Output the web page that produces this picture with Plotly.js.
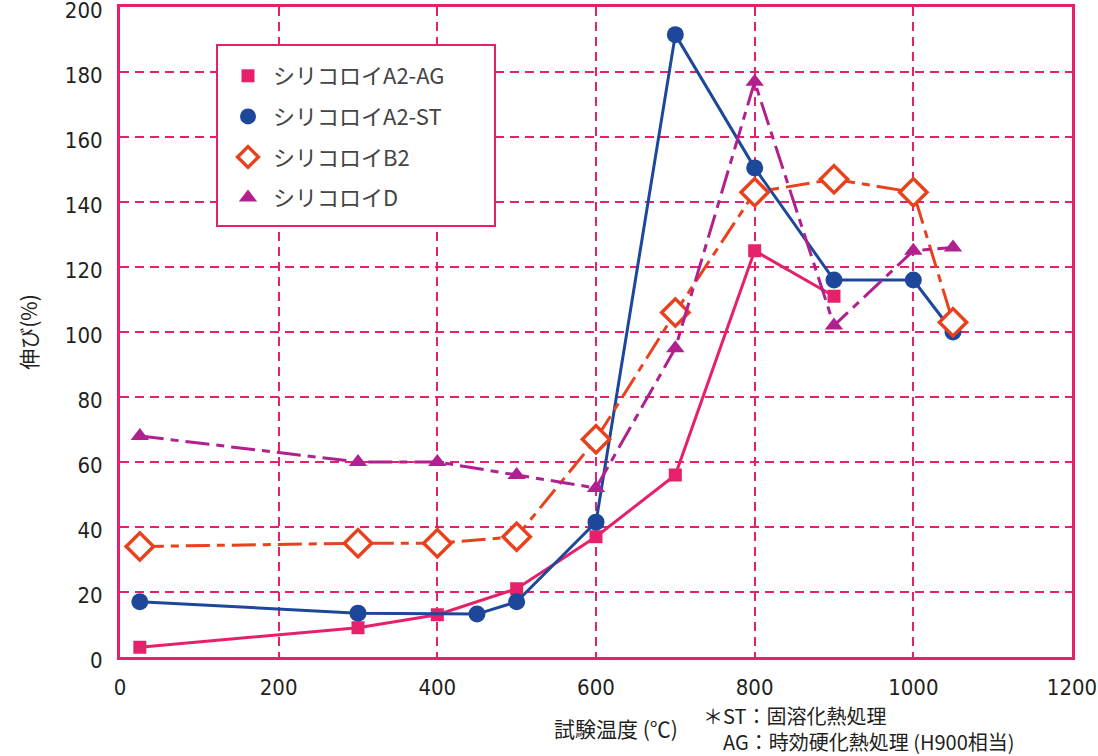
<!DOCTYPE html>
<html><head><meta charset="utf-8">
<script src="https://cdn.plot.ly/plotly-3.0.1.min.js"></script>
<style>body{margin:0;background:#fff}#chart{width:1098px;height:756px}</style>
</head><body><div id="chart"></div>
<script>
const seriesNames = ['シリコロイA2-AG','シリコロイA2-ST','シリコロイB2','シリコロイD'];
const agX = [25,300,400,500,600,700,800,900];
const agY = [3,9,13,21,37,56,125,111];
const stX = [25,300,450,500,600,700,800,900,1000,1050];
const stY = [17,13.5,13.2,17,41.5,191.5,150.5,116,116,100];
const b2X = [25,300,400,500,600,700,800,900,1000,1050];
const b2Y = [34,35,35,37,67,106,143,147,143,103];
const dX = [25,300,400,500,600,700,800,900,1000,1050];
const dY = [68,60,60,56,52,95,177,102,125,126];
const xTicks = [0,200,400,600,800,1000,1200];
const yTicks = [0,20,40,60,80,100,120,140,160,180,200];

const PINK='#e6206b', BLUE='#1d479b', ORANGE='#e8411c', MAG='#b0208e';
const styles = [
  {color:PINK, dash:'solid', sym:'square', size:13, open:false},
  {color:BLUE, dash:'solid', sym:'circle', size:17, open:false},
  {color:ORANGE, dash:'24px,7px,8px,7px', sym:'diamond', size:21, open:true},
  {color:MAG, dash:'24px,7px,8px,7px', sym:'triangle-up', size:16, open:false}
];
function mk(s){return {symbol:s.sym, size:s.size, color:s.open?'#ffffff':s.color, line:{color:s.color, width:s.open?3.5:0}};}
const data = [[agX,agY],[stX,stY],[b2X,b2Y],[dX,dY]];
const traces = [];
data.forEach((d,i)=>{
  const s = styles[i];
  traces.push({x:d[0], y:d[1], mode:'lines+markers', showlegend:false, name:seriesNames[i],
    line:{color:s.color, width:3, dash:s.dash}, marker:mk(s)});
});
data.forEach((d,i)=>{
  traces.push({x:[null], y:[null], mode:'markers', showlegend:true, name:seriesNames[i], legendgroup:'g'+i,
    marker:mk(styles[i])});
});
const tickFont = {family:'"Liberation Sans Narrow","DejaVu Sans Condensed","Noto Sans",Arial', size:22, color:'#231f20'};
const cjk = '"Noto Sans CJK JP", sans-serif';
const px = v => (v-120)/952, py = v => (657-v)/650;
const layout = {
  width:1098, height:756,
  margin:{l:120, r:26, t:7, b:99},
  paper_bgcolor:'#fff', plot_bgcolor:'#fff',
  showlegend:true,
  legend:{x:px(223), y:py(55), xanchor:'left', yanchor:'top', bgcolor:'rgba(0,0,0,0)', borderwidth:0,
    font:{family:cjk, size:22, color:'#444'}, tracegroupgap:9, itemwidth:40},
  shapes:[{type:'rect', xref:'paper', yref:'paper', x0:px(217), x1:px(495), y0:py(226), y1:py(45),
    line:{color:PINK, width:2}, fillcolor:'#fff', layer:'above'}],
  xaxis:{range:[0,1200], tickvals:xTicks, ticktext:xTicks.map(String), showgrid:true, gridcolor:PINK, griddash:'9px,6px', gridwidth:2,
    zeroline:false, showline:true, mirror:true, linecolor:PINK, linewidth:3, ticks:'', tickfont:tickFont, ticklabelstandoff:9},
  yaxis:{range:[0,200], tickvals:yTicks, ticktext:yTicks.map(String), showgrid:true, gridcolor:PINK, griddash:'9px,6px', gridwidth:2,
    zeroline:false, showline:true, mirror:true, linecolor:PINK, linewidth:3, ticks:'', tickfont:tickFont, ticklabelstandoff:10,
    ticklabeloverflow:'allow', ticklabelshift:3,
    title:{text:'伸び(%)', standoff:22, font:{family:cjk, size:21, color:'#231f20'}}},
  annotations:[
    {xref:'paper', yref:'paper', x:px(616), y:py(728), xanchor:'center', yanchor:'middle', showarrow:false,
     text:'試験温度 (℃)', font:{family:cjk, size:21, color:'#231f20'}},
    {xref:'paper', yref:'paper', x:px(701), y:py(728), xanchor:'left', yanchor:'middle', align:'left', showarrow:false,
     text:'＊ST：固溶化熱処理<br>　AG：時効硬化熱処理 (H900相当)', font:{family:cjk, size:20, color:'#231f20'}}
  ]
};
Plotly.newPlot('chart', traces, layout, {displayModeBar:false, staticPlot:true});
</script></body></html>
